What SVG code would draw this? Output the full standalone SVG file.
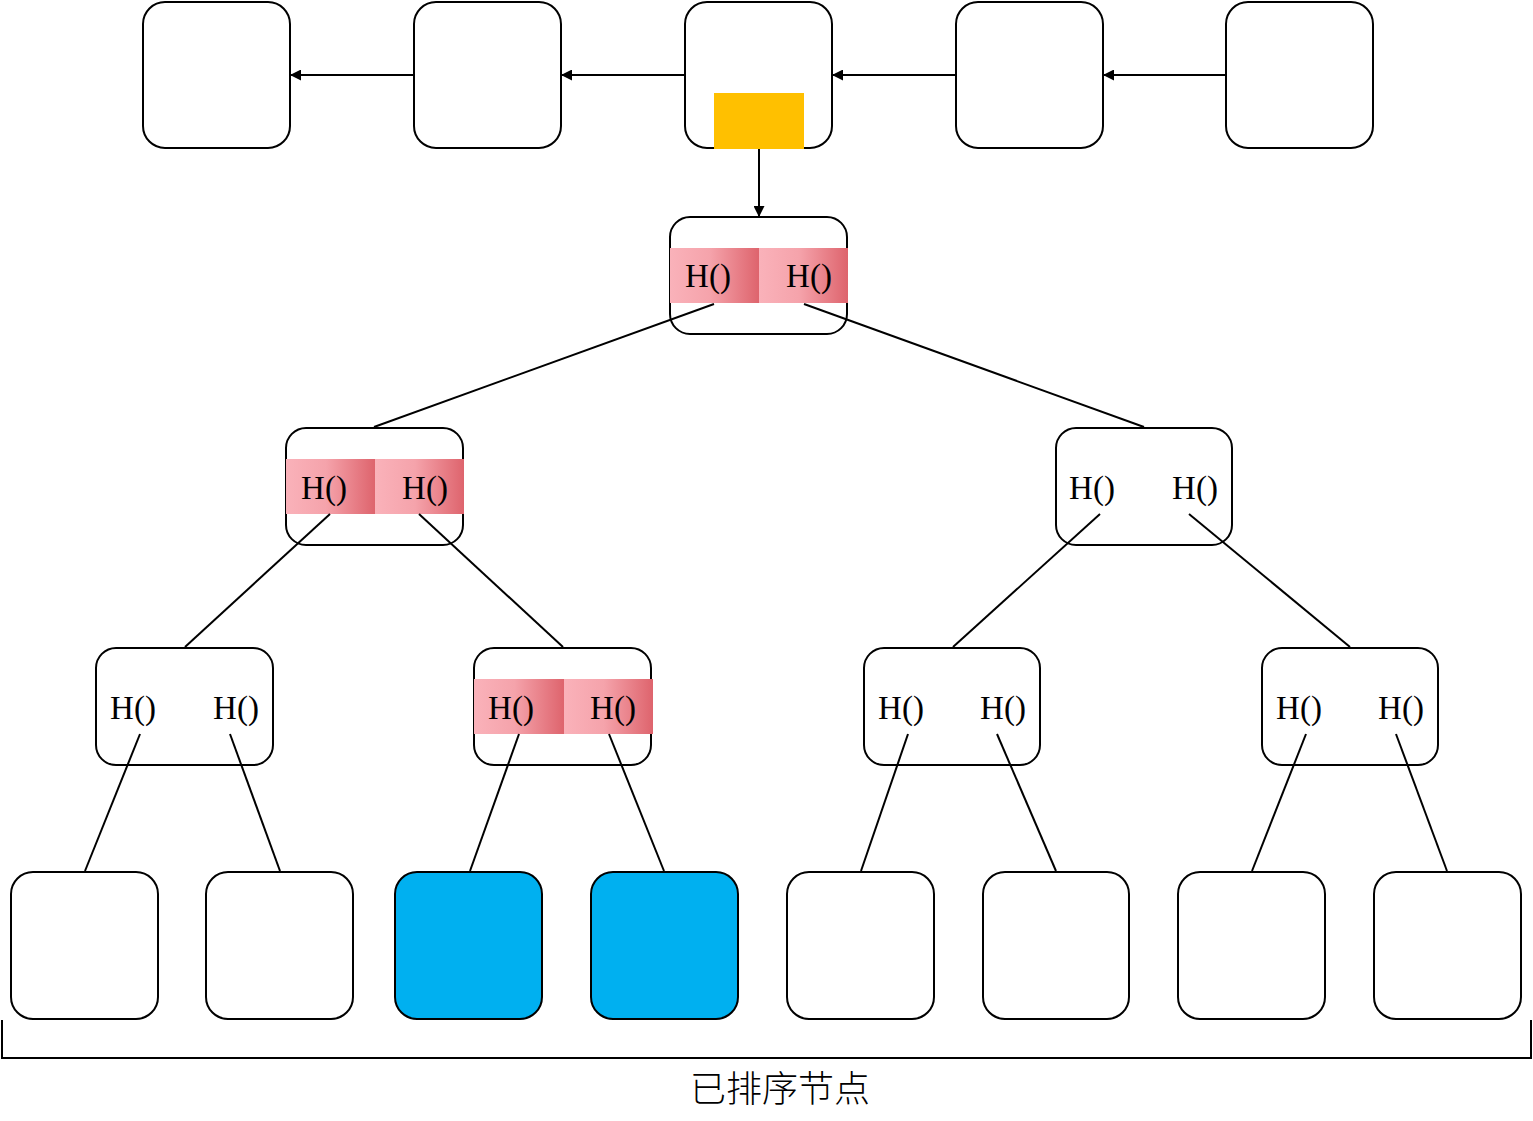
<svg xmlns="http://www.w3.org/2000/svg" width="1533" height="1121" viewBox="0 0 1533 1121">
<style>
.box{fill:#fff;stroke:#000;stroke-width:2}
.leaf{fill:#fff;stroke:#000;stroke-width:2}
.blue{fill:#00B0F0;stroke:#000;stroke-width:2}
.ln{stroke:#000;stroke-width:2;fill:none}
.h{font-family:"Liberation Serif","Times New Roman",serif;font-size:33px;fill:#000;text-anchor:middle}
.pk{fill:url(#pg)}
</style>
<defs>
<linearGradient id="pg" x1="0" y1="0" x2="1" y2="0">
<stop offset="0" stop-color="#FAB2BA"/>
<stop offset="0.45" stop-color="#F5A3AB"/>
<stop offset="1" stop-color="#DE646D"/>
</linearGradient>
<marker id="ar" markerWidth="11" markerHeight="11" refX="10" refY="5.5" orient="auto" markerUnits="userSpaceOnUse">
<path d="M0,0 L11,5.5 L0,11 Z" fill="#000"/>
</marker>
</defs>
<g id="list1"><rect class="box" x="143" y="2" width="147" height="146" rx="22"/></g>
<g id="list2"><rect class="box" x="414" y="2" width="147" height="146" rx="22"/></g>
<g id="list3"><rect class="box" x="685" y="2" width="147" height="146" rx="22"/><rect x="714" y="93" width="90" height="56" fill="#FFC000"/></g>
<g id="list4"><rect class="box" x="956" y="2" width="147" height="146" rx="22"/></g>
<g id="list5"><rect class="box" x="1226" y="2" width="147" height="146" rx="22"/></g>
<g id="root">
<rect class="box" x="670" y="217" width="177" height="117" rx="20"/>
<rect class="pk" x="670" y="248" width="89" height="55"/>
<rect class="pk" x="759" y="248" width="89" height="55"/>
<text class="h" x="708" y="287">H()</text>
<text class="h" x="809" y="287">H()</text>
</g>
<g id="l2a">
<rect class="box" x="286" y="428" width="177" height="117" rx="20"/>
<rect class="pk" x="286" y="459" width="89" height="55"/>
<rect class="pk" x="375" y="459" width="89" height="55"/>
<text class="h" x="324" y="499">H()</text>
<text class="h" x="425" y="499">H()</text>
</g>
<g id="l2b">
<rect class="box" x="1056" y="428" width="176" height="117" rx="20"/>
<text class="h" x="1092" y="499">H()</text>
<text class="h" x="1195" y="499">H()</text>
</g>
<g id="l3a">
<rect class="box" x="96" y="648" width="177" height="117" rx="20"/>
<text class="h" x="133" y="719">H()</text>
<text class="h" x="236" y="719">H()</text>
</g>
<g id="l3b">
<rect class="box" x="474" y="648" width="177" height="117" rx="20"/>
<rect class="pk" x="474" y="679" width="90" height="55"/>
<rect class="pk" x="564" y="679" width="89" height="55"/>
<text class="h" x="511" y="719">H()</text>
<text class="h" x="613" y="719">H()</text>
</g>
<g id="l3c">
<rect class="box" x="864" y="648" width="176" height="117" rx="20"/>
<text class="h" x="901" y="719">H()</text>
<text class="h" x="1003" y="719">H()</text>
</g>
<g id="l3d">
<rect class="box" x="1262" y="648" width="176" height="117" rx="20"/>
<text class="h" x="1299" y="719">H()</text>
<text class="h" x="1401" y="719">H()</text>
</g>
<g id="leaf1"><rect class="leaf" x="11" y="872" width="147" height="147" rx="22"/></g>
<g id="leaf2"><rect class="leaf" x="206" y="872" width="147" height="147" rx="22"/></g>
<g id="leaf3"><rect class="blue" x="395" y="872" width="147" height="147" rx="22"/></g>
<g id="leaf4"><rect class="blue" x="591" y="872" width="147" height="147" rx="22"/></g>
<g id="leaf5"><rect class="leaf" x="787" y="872" width="147" height="147" rx="22"/></g>
<g id="leaf6"><rect class="leaf" x="983" y="872" width="146" height="147" rx="22"/></g>
<g id="leaf7"><rect class="leaf" x="1178" y="872" width="147" height="147" rx="22"/></g>
<g id="leaf8"><rect class="leaf" x="1374" y="872" width="147" height="147" rx="22"/></g>
<g id="connectors">
<line class="ln" x1="414" y1="75" x2="291" y2="75" marker-end="url(#ar)"/>
<line class="ln" x1="685" y1="75" x2="562" y2="75" marker-end="url(#ar)"/>
<line class="ln" x1="956" y1="75" x2="833" y2="75" marker-end="url(#ar)"/>
<line class="ln" x1="1226" y1="75" x2="1104" y2="75" marker-end="url(#ar)"/>
<line class="ln" x1="759" y1="149" x2="759" y2="216" marker-end="url(#ar)"/>
<line class="ln" x1="714" y1="304" x2="374" y2="427"/>
<line class="ln" x1="804" y1="304" x2="1144" y2="427"/>
<line class="ln" x1="330" y1="514" x2="185" y2="647"/>
<line class="ln" x1="419" y1="514" x2="563" y2="647"/>
<line class="ln" x1="1100" y1="514" x2="953" y2="647"/>
<line class="ln" x1="1189" y1="514" x2="1350" y2="647"/>
<line class="ln" x1="140" y1="734" x2="85" y2="871"/>
<line class="ln" x1="230" y1="734" x2="280" y2="871"/>
<line class="ln" x1="519" y1="734" x2="470" y2="871"/>
<line class="ln" x1="609" y1="734" x2="664" y2="871"/>
<line class="ln" x1="908" y1="734" x2="861" y2="871"/>
<line class="ln" x1="997" y1="734" x2="1056" y2="871"/>
<line class="ln" x1="1306" y1="734" x2="1252" y2="871"/>
<line class="ln" x1="1396" y1="734" x2="1447" y2="871"/>
</g>
<g id="bracket">
<path class="ln" d="M2,1020 V1058 H1531 V1020"/>
<text x="780" y="1102" font-family="'Noto Sans CJK SC',sans-serif" font-size="36" font-weight="300" text-anchor="middle">已排序节点</text>
</g>
</svg>
